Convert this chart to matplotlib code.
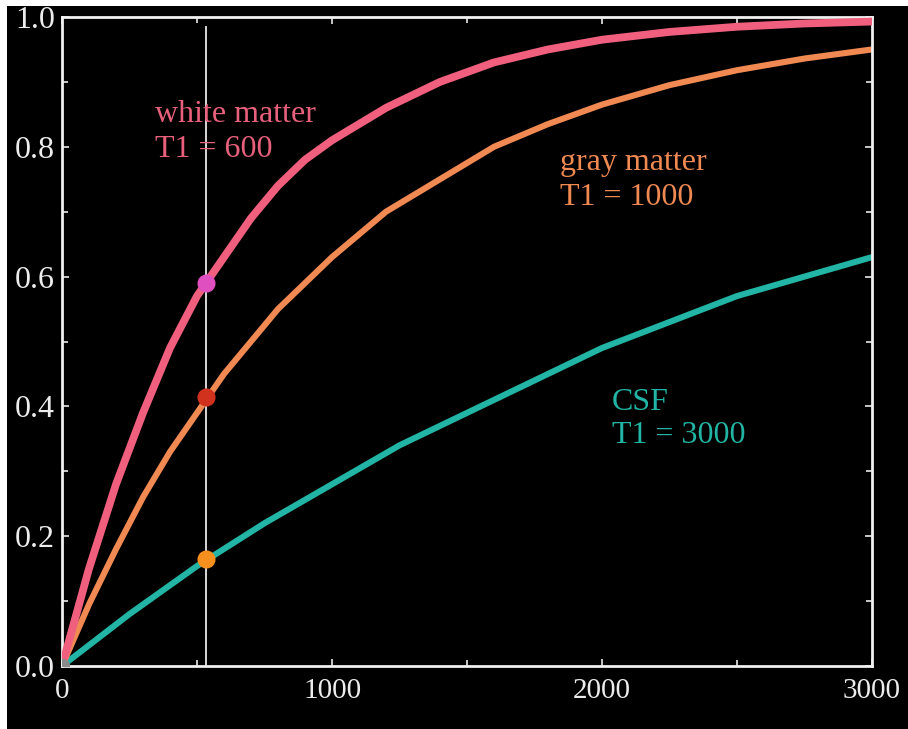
import matplotlib
matplotlib.use('Agg')
import matplotlib.pyplot as plt
from matplotlib.patches import Rectangle

# time axis (ms) and recovered longitudinal magnetisation
t_wm = [0, 100, 200, 300, 400, 500, 600, 700, 800, 900, 1000, 1200, 1400,
        1600, 1800, 2000, 2250, 2500, 2750, 3000]
wm = [0.0, 0.15, 0.28, 0.39, 0.49, 0.57, 0.63, 0.69, 0.74, 0.78, 0.81, 0.86,
      0.90, 0.93, 0.95, 0.965, 0.977, 0.985, 0.99, 0.993]

t_gm = [0, 100, 200, 300, 400, 500, 600, 700, 800, 1000, 1200, 1400, 1600,
        1800, 2000, 2250, 2500, 2750, 3000]
gm = [0.0, 0.095, 0.18, 0.26, 0.33, 0.39, 0.45, 0.50, 0.55, 0.63, 0.70, 0.75,
      0.80, 0.835, 0.865, 0.895, 0.918, 0.936, 0.95]

t_csf = [0, 250, 500, 750, 1000, 1250, 1500, 1750, 2000, 2250, 2500, 2750, 3000]
csf = [0.0, 0.08, 0.154, 0.22, 0.28, 0.34, 0.39, 0.44, 0.49, 0.53, 0.57, 0.60, 0.63]

tr = 535
tr_vals = [0.59, 0.415, 0.165]
tr_cols = ['#e04fc0', '#d0321e', '#f5901e']

labels = [("white matter", "T1 = 600", 344, 0.838, 0.784, '#e8607c'),
          ("gray matter", "T1 = 1000", 1844, 0.764, 0.710, '#f08a52'),
          ("CSF", "T1 = 3000", 2037, 0.394, 0.344, '#22b4a4')]

fig = plt.figure(figsize=(9.08, 7.29), dpi=100, facecolor='black')
ax = fig.add_axes([62/908, 1 - 666/729, 810/908, 649/729])
ax.set_facecolor('black')

# white strips on the top and left edge of the image
fig.patches.append(Rectangle((0, 1 - 6/729), 1, 6/729, transform=fig.transFigure,
                             facecolor='white', lw=0, zorder=0))
fig.patches.append(Rectangle((0, 0), 7/908, 1, transform=fig.transFigure,
                             facecolor='white', lw=0, zorder=0))

ax.plot([tr, tr], [0, 0.985], color='#e8e8e8', lw=1.3, zorder=1)

ax.plot(t_csf, csf, color='#22b4a4', lw=4.4, zorder=2)
ax.plot(t_gm, gm, color='#f08a52', lw=4.4, zorder=2)
ax.plot(t_wm, wm, color='#f0607e', lw=5.6, zorder=3)

for v, c in zip(tr_vals, tr_cols):
    ax.plot(tr, v, 'o', color=c, ms=12, zorder=4)
ax.plot(0, 0, 'o', color='#8a8a8a', ms=10, zorder=4)

for l1, l2, x, y1, y2, c in labels:
    ax.text(x, y1, l1, color=c, fontsize=23, family='Liberation Serif', va='baseline')
    ax.text(x, y2, l2, color=c, fontsize=23, family='Liberation Serif', va='baseline')

ax.set_xlim(0, 3000)
ax.set_ylim(0, 1.0)
ax.set_xticks([0, 1000, 2000, 3000])
ax.set_xticks([500, 1500, 2500], minor=True)
ax.set_yticks([0.0, 0.2, 0.4, 0.6, 0.8, 1.0])
ax.set_yticks([0.1, 0.3, 0.5, 0.7, 0.9], minor=True)
ax.set_yticklabels(['0.0', '0.2', '0.4', '0.6', '0.8', '1.0'])
ax.tick_params(which='both', direction='in', top=True, right=True,
               colors='#e8e8e8', width=1.2)
ax.tick_params(which='major', length=5, labelcolor='#ececec')
ax.tick_params(which='minor', length=4)
ax.tick_params(axis='x', pad=9, labelsize=21)
ax.tick_params(axis='y', pad=5, labelsize=23)
for lab in ax.get_xticklabels() + ax.get_yticklabels():
    lab.set_family('Liberation Serif')
for s in ax.spines.values():
    s.set_color('#f0f0f0')
    s.set_linewidth(2)

fig.savefig('out.png', dpi=100, facecolor='black')
